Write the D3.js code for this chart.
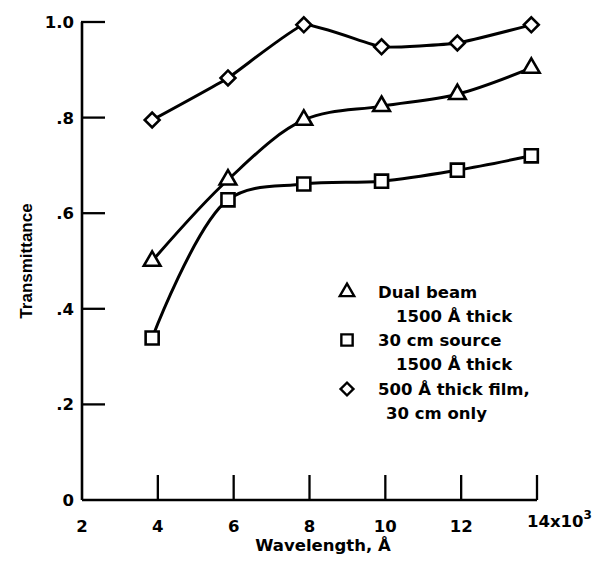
<!DOCTYPE html>
<html>
<head>
<meta charset="utf-8">
<script src="https://cdn.jsdelivr.net/npm/d3@7"></script>
<style>
  body { margin: 0; background: #fff; }
  text { font-family: "DejaVu Sans", sans-serif; font-weight: bold; fill: #000; }
  .ytitle { font-family: "Liberation Sans", Arial, sans-serif; }
</style>
</head>
<body>
<svg id="chart" width="594" height="563"></svg>
<script>
// wavelength, x10^3 Angstrom
const wavelengths = [3.85, 5.85, 7.85, 9.9, 11.9, 13.85];
const dualBeam = [0.50, 0.67, 0.795, 0.824, 0.849, 0.904];
const source30cm = [0.339, 0.628, 0.661, 0.667, 0.690, 0.720];
const thinFilm = [0.795, 0.883, 0.994, 0.948, 0.956, 0.994];

const xTicks = [2, 4, 6, 8, 10, 12, 14];
const yTicks = [0, 0.2, 0.4, 0.6, 0.8, 1.0];
const yTickLabels = ["0", ".2", ".4", ".6", ".8", "1.0"];

const series = [
  { name: "dual", values: dualBeam, symbol: d3.symbolTriangle, size: 120, rotate: 0,
    curve: d3.curveCatmullRom.alpha(0.5), legend: ["Dual beam", "1500 Å thick"] },
  { name: "source", values: source30cm, symbol: d3.symbolSquare, size: 170, rotate: 0,
    curve: d3.curveCatmullRom.alpha(0.5), legend: ["30 cm source", "1500 Å thick"] },
  { name: "film", values: thinFilm, symbol: d3.symbolSquare, size: 110, rotate: 45,
    curve: d3.curveCardinal.tension(0.6), legend: ["500 Å thick film,", "30 cm only"] }
];

const fontSize = 16.5;
const svg = d3.select("#chart");

const x = d3.scaleLinear().domain([2, 14]).range([82, 537]);
const y = d3.scaleLinear().domain([0, 1]).range([500, 22]);

// axes
const g = svg.append("g");
g.append("line")
  .attr("x1", x(2)).attr("x2", x(14))
  .attr("y1", y(0)).attr("y2", y(0))
  .attr("stroke", "#000").attr("stroke-width", 2.6);
g.append("line")
  .attr("x1", x(2)).attr("x2", x(2))
  .attr("y1", y(0)).attr("y2", y(1))
  .attr("stroke", "#000").attr("stroke-width", 2.6);

// x ticks point up into the plot
g.selectAll(".xtick")
  .data(xTicks.slice(1))
  .enter()
  .append("line")
  .attr("x1", d => x(d)).attr("x2", d => x(d))
  .attr("y1", y(0)).attr("y2", y(0) - 25)
  .attr("stroke", "#000").attr("stroke-width", 2.3);

g.selectAll(".xlabel")
  .data(xTicks.slice(0, -1))
  .enter()
  .append("text")
  .attr("x", d => x(d))
  .attr("y", 532)
  .attr("text-anchor", "middle")
  .attr("font-size", fontSize)
  .text(d => d);

const last = g.append("text")
  .attr("x", x(14) - 10)
  .attr("y", 527)
  .attr("font-size", fontSize);
last.append("tspan").text(xTicks[xTicks.length - 1] + "x10");
last.append("tspan").attr("dy", -8).attr("font-size", 12).text("3");

// y ticks point right into the plot
g.selectAll(".ytick")
  .data(yTicks.slice(1))
  .enter()
  .append("line")
  .attr("x1", x(2) - 1).attr("x2", x(2) + 23)
  .attr("y1", d => y(d)).attr("y2", d => y(d))
  .attr("stroke", "#000").attr("stroke-width", 2.3);

g.selectAll(".ylabel")
  .data(yTicks)
  .enter()
  .append("text")
  .attr("x", 74)
  .attr("y", d => y(d))
  .attr("dy", "0.36em")
  .attr("text-anchor", "end")
  .attr("font-size", fontSize)
  .text((d, i) => yTickLabels[i]);

// axis titles
svg.append("text")
  .attr("x", 323)
  .attr("y", 551)
  .attr("text-anchor", "middle")
  .attr("font-size", fontSize)
  .text("Wavelength, Å");

svg.append("text")
  .attr("class", "ytitle")
  .attr("transform", "translate(32,261) rotate(-90)")
  .attr("text-anchor", "middle")
  .attr("font-size", 17)
  .text("Transmittance");

// lines and markers
series.forEach(s => {
  const line = d3.line()
    .x((d, i) => x(wavelengths[i]))
    .y(d => y(d))
    .curve(s.curve);

  svg.append("path")
    .datum(s.values)
    .attr("d", line)
    .attr("fill", "none")
    .attr("stroke", "#000")
    .attr("stroke-width", 3);

  svg.selectAll(".pt-" + s.name)
    .data(s.values)
    .enter()
    .append("path")
    .attr("d", d3.symbol().type(s.symbol).size(s.size))
    .attr("transform", (d, i) => `translate(${x(wavelengths[i])},${y(d)}) rotate(${s.rotate})`)
    .attr("fill", "#fff")
    .attr("stroke", "#000")
    .attr("stroke-width", 2.6);
});

// legend
const legend = svg.append("g");
const legendY = [292, 340, 389];
series.forEach((s, i) => {
  legend.append("path")
    .attr("d", d3.symbol().type(s.symbol).size(s.size * 0.75))
    .attr("transform", `translate(347,${legendY[i]}) rotate(${s.rotate})`)
    .attr("fill", "#fff")
    .attr("stroke", "#000")
    .attr("stroke-width", 2.4);
  legend.append("text")
    .attr("x", 378)
    .attr("y", legendY[i] + 6)
    .attr("font-size", fontSize)
    .text(s.legend[0]);
  legend.append("text")
    .attr("x", i === 2 ? 386 : 396)
    .attr("y", legendY[i] + 30)
    .attr("font-size", fontSize)
    .text(s.legend[1]);
});
</script>
</body>
</html>
